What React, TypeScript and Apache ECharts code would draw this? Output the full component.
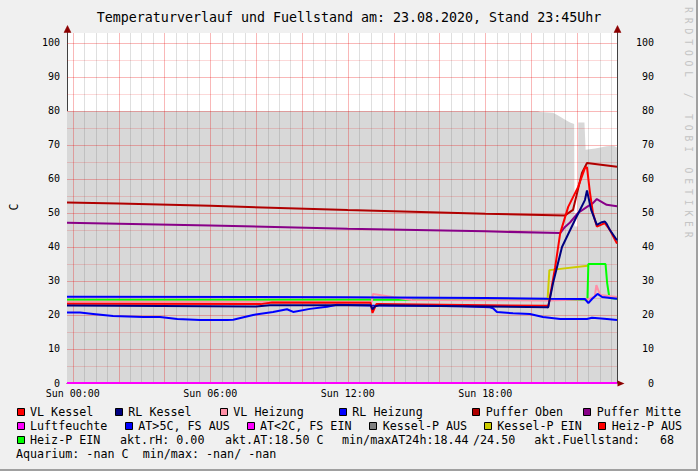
import React, { useEffect, useRef } from 'react';
import * as echarts from 'echarts';

type P = [number, number][];

// ---------- texts ----------
const TITLE = 'Temperaturverlauf und Fuellstand am: 23.08.2020, Stand 23:45Uhr';
const Y_NAME = 'C';
const WATERMARK = 'RRDTOOL / TOBI OETIKER';
const xTickHours = [0, 6, 12, 18];
const xTickLabels = ['Sun 00:00', 'Sun 06:00', 'Sun 12:00', 'Sun 18:00'];
const yTickValues = [0, 10, 20, 30, 40, 50, 60, 70, 80, 90, 100];

const legendRow1 = ['VL Kessel', 'RL Kessel', 'VL Heizung', 'RL Heizung', 'Puffer Oben', 'Puffer Mitte'];
const legendRow2 = ['Luftfeuchte', 'AT>5C, FS AUS', 'AT<2C, FS EIN', 'Kessel-P AUS', 'Kessel-P EIN', 'Heiz-P AUS'];
const legendRow3 = ['Heiz-P EIN'];
const infoRow3 = ['akt.rH: 0.00', 'akt.AT:18.50 C', 'min/maxAT24h:18.44', '/24.50', 'akt.Fuellstand:', '68'];
const infoRow4 = ['Aquarium: -nan C  min/max: -nan/ -nan'];

// ---------- data (hour of day, value) ----------
const fuellstand: P = [
  [-0.25, 80], [20.3, 80], [20.4, 79.7], [20.96, 79.5], [21.2, 78.6], [21.45, 77.6], [21.7, 76.6],
  [21.88, 76.2], [21.9, 46], [22.04, 46], [22.06, 76.6], [22.33, 76.6], [22.38, 68.6], [22.8, 69],
  [23.3, 69.6], [23.6, 69.8], [23.75, 69.3],
];
const pufferOben: P = [
  [-0.25, 53.1], [2, 52.8], [6, 52.1], [12, 50.9], [18, 49.8], [21.48, 49.3], [21.83, 50.9],
  [22.22, 61.8], [22.44, 64.7], [23.75, 63.6],
];
const pufferMitte: P = [
  [-0.25, 47.1], [6, 46.3], [12, 45.4], [18, 44.6], [21.27, 44.1], [21.48, 45.9], [21.7, 47.2],
  [22.05, 50], [22.44, 51.8], [22.7, 52.9], [22.87, 54.1], [23.3, 52.4], [23.75, 52],
];
const rlKessel: P = [
  [-0.25, 22.8], [8, 22.5], [8.6, 22.9], [13.0, 22.9], [13.08, 21.7], [13.2, 22.6], [13.4, 22.9],
  [20.72, 22.3], [20.74, 22.1], [20.96, 29.4], [21.35, 40], [21.92, 48], [22.35, 53.8], [22.44, 56.6],
  [22.62, 51], [22.87, 46.5], [23.09, 47.3], [23.22, 47.5], [23.3, 46.8], [23.44, 45], [23.75, 42],
];
const vlKessel: P = [
  [-0.25, 23.3], [8.2, 23.2], [8.7, 23.7], [13.0, 23.6], [13.08, 20.6], [13.25, 23.2], [20.72, 22.7],
  [20.75, 22.4], [21.05, 34], [21.27, 44], [21.62, 51.8], [22.05, 57.6], [22.35, 63.2], [22.44, 63.5],
  [22.57, 56], [22.7, 50], [22.87, 46], [23.22, 47], [23.44, 45], [23.75, 41],
];
const vlHeizung: P = [
  [-0.25, 23.9], [13.05, 23.9], [13.1, 26.2], [14.8, 24.4], [20.7, 24.3], [22.5, 24.6], [22.78, 25.5],
  [22.85, 28.8], [22.95, 27], [23.02, 25.9], [23.75, 25.3],
];
const rlHeizung: P = [
  [-0.25, 25.4], [12, 25.2], [18, 25.0], [20.7, 24.8], [22.35, 24.7], [22.5, 23.5], [22.66, 24.7],
  [22.9, 26.2], [23.1, 25.3], [23.75, 24.8],
];
const aussenTemp: P = [
  [-0.25, 20.7], [0.32, 20.7], [0.89, 20.3], [1.76, 19.7], [3.07, 19.4], [3.81, 19.4], [4.56, 18.8],
  [5.56, 18.5], [6.74, 18.5], [7.0, 18.6], [7.87, 20.0], [8.74, 20.9], [9.35, 21.7], [9.62, 20.9],
  [10.35, 21.8], [11.1, 22.4], [11.53, 23.0], [13.0, 22.8], [15, 22.7], [17, 22.6], [18.2, 22.3],
  [18.34, 22.0], [18.51, 20.9], [19.21, 20.5], [19.95, 20.3], [20.52, 19.4], [21.27, 18.8],
  [22.44, 18.8], [22.66, 19.2], [23.31, 18.8], [23.75, 18.5],
];
const luftfeuchte: P = [[-0.25, 0], [23.75, 0]];
const heizPEin: P = [
  [-0.25, 24.5], [22.46, 24.5], [22.5, 35], [23.25, 35], [23.32, 29.4], [23.42, 25], [23.75, 24.8],
];
const kesselPEin: P = [[20.72, 24.4], [20.8, 33.2], [22.47, 34.5]];

// ---------- styles / layout ----------
const FONT = '"DejaVu Sans Mono", monospace';
const COL = {
  vlKessel: '#ff0000', rlKessel: '#000080', vlHeizung: '#ff8fa6', rlHeizung: '#0000ff',
  pufferOben: '#b00000', pufferMitte: '#880088', luftfeuchte: '#ff00ff', atAus: '#0000ff',
  atEin: '#ff00ff', kesselPAus: '#808080', kesselPEin: '#cccc00', heizPAus: '#ff0000', heizPEin: '#00ff00',
  area: '#d8d8d8', arrow: '#8c0000',
};
const legendRow1Colors = [COL.vlKessel, COL.rlKessel, COL.vlHeizung, COL.rlHeizung, COL.pufferOben, COL.pufferMitte];
const legendRow2Colors = [COL.luftfeuchte, COL.atAus, COL.atEin, COL.kesselPAus, COL.kesselPEin, COL.heizPAus];
const legendRow3Colors = [COL.heizPEin];
const row1X = [30, 128.3, 233.3, 352.3, 485.7, 596.7];
const row2X = [30, 138.3, 260, 382.7, 497.3, 611.7];
const row3X = [30];
const info3X = [120, 225, 342, 473, 534.3, 660];
const info4X = [16];
const rowY = [411.5, 425.5, 439.5, 453.5];

function App() {
  const ref = useRef<HTMLDivElement>(null);

  useEffect(() => {
    if (!ref.current) return;
    const chart = echarts.init(ref.current, null, { renderer: 'svg' });

    const vGrid: number[] = [];
    for (let i = 0; i <= 47; i++) vGrid.push(i * 0.5);
    const hGrid: number[] = [];
    for (let v = 5; v <= 100; v += 5) hGrid.push(v);

    const lineSeries = (name: string, data: P, color: string, z: number) => ({
      type: 'line', name, data, z, silent: true, showSymbol: false, symbol: 'none',
      lineStyle: { color, width: 2 }, itemStyle: { color }, emphasis: { disabled: true },
    });

    const elements: any[] = [];
    const text = (t: string, x: number, y: number, size: number, extra: any = {}) => ({
      type: 'text', x, y, z: 100, silent: true, rotation: extra.rotation || 0,
      style: {
        text: t, fill: extra.fill || '#000', fontSize: size, fontFamily: FONT,
        align: extra.align || 'left', textAlign: extra.align || 'left',
        verticalAlign: 'middle', textVerticalAlign: 'middle',
      },
    });
    elements.push(text(TITLE, 349, 17, 13.3, { align: 'center' }));
    elements.push(text(Y_NAME, 14, 207, 11.7, { align: 'center', rotation: Math.PI / 2 }));
    WATERMARK.split('').forEach((ch, i) => {
      if (ch !== ' ') elements.push(text(ch, 688, 10 + i * 10.7, 9.6, { align: 'center', rotation: -Math.PI / 2, fill: '#c4c4c4' }));
    });
    const addLegend = (labels: string[], colors: string[], xs: number[], y: number) => {
      labels.forEach((l, i) => {
        const bx = xs[i] - 13.5;
        elements.push({
          type: 'rect', z: 100, silent: true,
          shape: { x: Math.round(bx) + 0.5, y: Math.round(y - 4) + 0.5, width: 7, height: 7 },
          style: { fill: colors[i], stroke: '#000', lineWidth: 1 },
        });
        elements.push(text(l, xs[i], y, 11.7));
      });
    };
    addLegend(legendRow1, legendRow1Colors, row1X, rowY[0]);
    addLegend(legendRow2, legendRow2Colors, row2X, rowY[1]);
    addLegend(legendRow3, legendRow3Colors, row3X, rowY[2]);
    infoRow3.forEach((t, i) => elements.push(text(t, info3X[i], rowY[2], 11.7)));
    infoRow4.forEach((t, i) => elements.push(text(t, info4X[i], rowY[3], 11.7)));
    // top axis arrows (decoration) with a short stem
    [67.5, 617.5].forEach((ax) => {
      elements.push({ type: 'line', z: 1000, silent: true, shape: { x1: ax, y1: 28, x2: ax, y2: 34 }, style: { stroke: '#404040', lineWidth: 1 } });
      elements.push({
        type: 'polygon', z: 1000, silent: true,
        shape: { points: [[ax, 25.5], [ax - 3.5, 32.5], [ax + 3.5, 32.5]] },
        style: { fill: COL.arrow, stroke: COL.arrow, lineWidth: 0.5 },
      });
    });
    // frame shading
    elements.push({ type: 'rect', z: 100, silent: true, shape: { x: 696, y: 0, width: 2, height: 471 }, style: { fill: '#a0a0a0' } });
    elements.push({ type: 'rect', z: 100, silent: true, shape: { x: 0, y: 469, width: 698, height: 2 }, style: { fill: '#a0a0a0' } });

    const axisLabelStyle = { fontFamily: FONT, fontSize: 10, color: '#000' };
    const axisLine = { show: true, onZero: false, lineStyle: { color: '#404040', width: 1 } };

    chart.setOption({
      animation: false,
      backgroundColor: '#f0f0f0',
      grid: { left: 67, top: 33, width: 550, height: 350, containLabel: false, show: true, backgroundColor: '#ffffff', borderWidth: 0 },
      xAxis: {
        type: 'value', min: -0.25, max: 23.75,
        axisLine,
        axisTick: { show: false },
        splitLine: { show: false },
        axisLabel: {
          ...axisLabelStyle, margin: 5, customValues: xTickHours,
          formatter: (v: number) => {
            const i = xTickHours.indexOf(v);
            return i >= 0 ? xTickLabels[i] : '';
          },
        },
      },
      yAxis: [
        {
          type: 'value', min: 0, max: 102.94, interval: 10, position: 'left',
          axisLine,
          axisTick: { show: false }, splitLine: { show: false },
          axisLabel: {
            ...axisLabelStyle, margin: 7, showMaxLabel: false,
            formatter: (v: number) => (yTickValues.indexOf(v) >= 0 ? String(v) : ''),
          },
        },
        {
          type: 'value', min: 0, max: 102.94, interval: 10, position: 'right',
          axisLine,
          axisTick: { show: false }, splitLine: { show: false },
          axisLabel: {
            ...axisLabelStyle, margin: 37, align: 'right', showMaxLabel: false,
            formatter: (v: number) => (yTickValues.indexOf(v) >= 0 ? String(v) : ''),
          },
        },
      ],
      graphic: { elements },
      series: [
        {
          type: 'line', name: 'Fuellstand', data: fuellstand, z: 1, silent: true, showSymbol: false, symbol: 'none',
          lineStyle: { width: 0, color: COL.area }, areaStyle: { color: COL.area, opacity: 1 }, emphasis: { disabled: true },
        },
        {
          type: 'custom', name: 'grid', z: 2, silent: true, data: [[0, 0]],
          renderItem: (params: any, api: any) => {
            const cs = params.coordSys;
            const children: any[] = [];
            vGrid.forEach((h, i) => {
              const x = Math.round(api.coord([h, 0])[0]) + 0.5;
              children.push({
                type: 'line', shape: { x1: x, y1: cs.y, x2: x, y2: cs.y + cs.height },
                style: { stroke: i % 4 === 0 ? 'rgba(235,0,0,0.28)' : 'rgba(110,110,110,0.22)', lineWidth: 1 },
              });
            });
            hGrid.forEach((v) => {
              const y = Math.round(api.coord([0, v])[1]) + 0.5;
              children.push({
                type: 'line', shape: { x1: cs.x, y1: y, x2: cs.x + cs.width, y2: y },
                style: { stroke: v % 10 === 0 ? 'rgba(235,0,0,0.28)' : 'rgba(235,0,0,0.15)', lineWidth: 1 },
              });
            });
            return { type: 'group', children };
          },
        },
        {
          type: 'custom', name: 'arrows', z: 10, silent: true, clip: false, data: [[0, 0]],
          renderItem: (params: any) => {
            const cs = params.coordSys;
            const r = cs.x + cs.width + 0.5, b = cs.y + cs.height + 0.5;
            return {
              type: 'polygon', shape: { points: [[r + 7, b], [r, b - 3], [r, b + 3]] }, style: { fill: COL.arrow },
            };
          },
        },
        lineSeries('Luftfeuchte', luftfeuchte, COL.luftfeuchte, 3),
        lineSeries('Kessel-P EIN', kesselPEin, COL.kesselPEin, 3),
        lineSeries('Heiz-P EIN', heizPEin, COL.heizPEin, 3),
        lineSeries('VL Heizung', vlHeizung, COL.vlHeizung, 3),
        lineSeries('RL Heizung', rlHeizung, COL.rlHeizung, 3),
        lineSeries('AT', aussenTemp, COL.atAus, 3),
        lineSeries('Puffer Oben', pufferOben, COL.pufferOben, 3),
        lineSeries('Puffer Mitte', pufferMitte, COL.pufferMitte, 3),
        lineSeries('VL Kessel', vlKessel, COL.vlKessel, 3),
        lineSeries('RL Kessel', rlKessel, COL.rlKessel, 3),
      ],
    });

    return () => chart.dispose();
  }, []);

  return <div ref={ref} style={{ position: 'absolute', left: 0, top: 0, width: 698, height: 471 }} />;
}

export default App;
